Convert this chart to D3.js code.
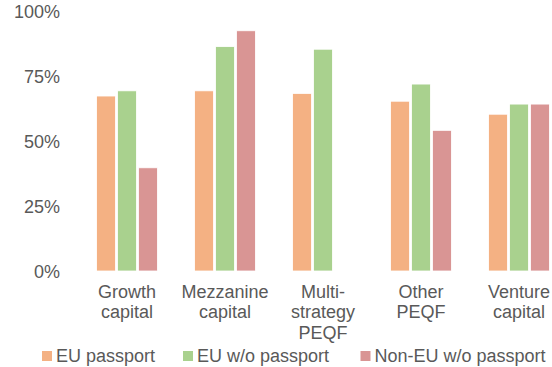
<!DOCTYPE html>
<html><head><meta charset="utf-8">
<script src="https://cdn.jsdelivr.net/npm/d3@7"></script>
<style>body{margin:0;background:#fff;}svg{display:block;}</style>
</head><body>
<svg id="c" width="552" height="367"></svg>
<script>
const categories = [["Growth","capital"],["Mezzanine","capital"],["Multi-","strategy","PEQF"],["Other","PEQF"],["Venture","capital"]];
const seriesNames = ["EU passport","EU w/o passport","Non-EU w/o passport"];
const euPassport = [67.3, 69.3, 68.3, 65.3, 60.3];
const euNoPassport = [69.3, 86.3, 85.3, 71.9, 64.2];
const nonEuNoPassport = [39.7, 92.4, null, 54.1, 64.2];
const yTicks = [0, 25, 50, 75, 100];
const colors = ["#F4B183", "#A9D18E", "#D99594"];

const series = [euPassport, euNoPassport, nonEuNoPassport];
const svg = d3.select("#c");
const font = "'Liberation Sans', Arial, sans-serif";
const textColor = "#595959";
const fs = 18;

const y = d3.scaleLinear().domain([0, 100]).range([271, 11]);
const x0 = d3.scaleBand().domain(d3.range(categories.length)).range([78, 568]).paddingInner(0).paddingOuter(0);
const x1 = d3.scaleBand().domain(d3.range(3)).range([16.5, 81.5]).padding(0.1);

// y axis
const yAxis = d3.axisLeft(y).tickValues(yTicks).tickFormat(d => d + "%").tickSize(0).tickPadding(0);
const gy = svg.append("g").attr("transform", "translate(60,0)").call(yAxis);
gy.select(".domain").remove();
gy.selectAll("text").attr("font-family", font).attr("font-size", fs).attr("fill", textColor).attr("dy", "0.35em");

// bars
const groups = svg.append("g").selectAll("g").data(categories).join("g")
  .attr("transform", (d, i) => `translate(${x0(i)},0)`);
groups.selectAll("rect").data((d, i) => series.map((s, k) => ({k, v: s[i]})).filter(o => o.v != null))
  .join("rect")
  .attr("x", d => x1(d.k))
  .attr("width", x1.bandwidth())
  .attr("y", d => y(d.v))
  .attr("height", d => y(0) - y(d.v))
  .attr("fill", d => colors[d.k])
  .attr("stroke", "#fff").attr("stroke-width", 0.8);

// category labels
const xAxis = d3.axisBottom(x0).tickSize(0).tickFormat(() => "");
const gx = svg.append("g").attr("transform", "translate(0,271)").call(xAxis);
gx.select(".domain").remove();
gx.selectAll(".tick").each(function(d) {
  const t = d3.select(this).append("text")
    .attr("font-family", font).attr("font-size", fs).attr("fill", textColor)
    .attr("text-anchor", "middle");
  categories[d].forEach((line, j) => {
    t.append("tspan").attr("x", 0).attr("y", 26.5 + j * 20.8).text(line);
  });
});

// legend
const legendX = [42, 183, 360.5];
const lg = svg.append("g").selectAll("g").data(seriesNames).join("g")
  .attr("transform", (d, i) => `translate(${legendX[i]},356)`);
lg.append("rect").attr("x", 0).attr("y", -5).attr("width", 10).attr("height", 10).attr("fill", (d, i) => colors[i]);
lg.append("text").attr("x", 14).attr("y", 0).attr("dy", "0.35em")
  .attr("font-family", font).attr("font-size", fs).attr("fill", textColor).text(d => d);
</script>
</body></html>
